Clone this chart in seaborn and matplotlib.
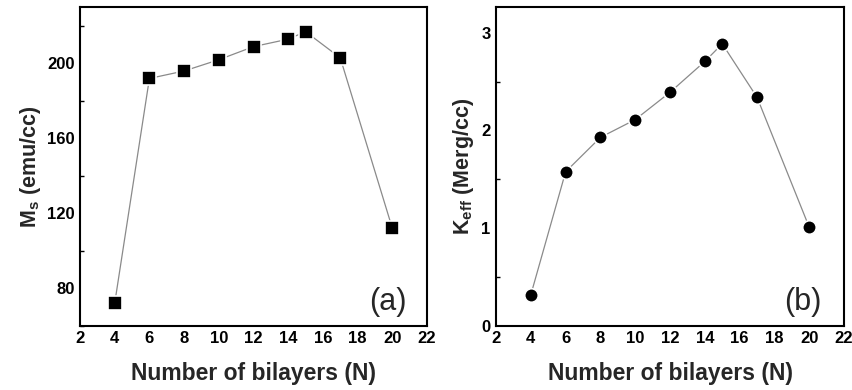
import matplotlib
matplotlib.use("Agg")
import matplotlib.pyplot as plt
import seaborn as sns
import pandas as pd
from matplotlib.ticker import MultipleLocator

# Measured values versus number of bilayers
bilayers = [4, 6, 8, 10, 12, 14, 15, 17, 20]
ms_values = [72, 192, 196, 202, 209, 213, 217, 203, 112]
keff_values = [0.317, 1.576, 1.928, 2.11, 2.39, 2.706, 2.886, 2.338, 1.007]

x_ticks = [2, 4, 6, 8, 10, 12, 14, 16, 18, 20, 22]
ms_ticks = [80, 120, 160, 200]
keff_ticks = [0, 1, 2, 3]

sns.set_theme(style="white")
plt.rcParams["font.family"] = ["Liberation Sans", "DejaVu Sans"]
plt.rcParams["mathtext.fontset"] = "custom"
plt.rcParams["mathtext.bf"] = "Liberation Sans:bold"
plt.rcParams["mathtext.rm"] = "Liberation Sans"

df = pd.DataFrame({"N": bilayers, "Ms": ms_values, "Keff": keff_values})

fig = plt.figure(figsize=(8.52, 3.9), dpi=100)
ax1 = fig.add_axes([0.0939, 0.1649, 0.4073, 0.8164])
ax2 = fig.add_axes([0.5822, 0.1649, 0.4085, 0.8164])

line_kw = dict(color="#8a8a8a", linewidth=0.9, zorder=1)

sns.lineplot(data=df, x="N", y="Ms", ax=ax1, **line_kw)
sns.scatterplot(data=df, x="N", y="Ms", ax=ax1, marker="s", s=90,
                color="black", edgecolor="white", linewidth=1.2, zorder=3)

sns.lineplot(data=df, x="N", y="Keff", ax=ax2, **line_kw)
sns.scatterplot(data=df, x="N", y="Keff", ax=ax2, marker="o", s=95,
                color="black", edgecolor="white", linewidth=1.2, zorder=3)

ax1.set_ylim(60, 230)
ax1.set_yticks(ms_ticks)
ax1.yaxis.set_minor_locator(MultipleLocator(20))
ax2.set_ylim(0, 3.26)
ax2.set_yticks(keff_ticks)
ax2.yaxis.set_minor_locator(MultipleLocator(0.5))

for ax in (ax1, ax2):
    ax.set_xlim(2, 22)
    ax.set_xticks(x_ticks)
    ax.set_xlabel("Number of bilayers (N)", fontsize=16.5, fontweight="bold", labelpad=11)
    for sp in ax.spines.values():
        sp.set_visible(True)
        sp.set_color("black")
        sp.set_linewidth(1.5)
    ax.tick_params(axis="both", which="major", direction="in", length=5, width=1.2,
                   labelsize=12, colors="black", pad=4)
    ax.tick_params(axis="y", which="minor", direction="in", length=3, width=1.0,
                   left=True, colors="black")
    for lab in ax.get_xticklabels() + ax.get_yticklabels():
        lab.set_fontweight("bold")
    ax.grid(False)

ax1.set_ylabel(r"M$_{\bf s}$ (emu/cc)", fontsize=15.5, fontweight="bold", labelpad=3)
ax2.set_ylabel(r"K$_{\bf eff}$ (Merg/cc)", fontsize=15.5, fontweight="bold", labelpad=4)

ax1.text(0.886, 0.075, "(a)", transform=ax1.transAxes, fontsize=22, ha="center", va="center")
ax2.text(0.882, 0.075, "(b)", transform=ax2.transAxes, fontsize=22, ha="center", va="center")

fig.savefig("out.png", dpi=100, facecolor="white")
